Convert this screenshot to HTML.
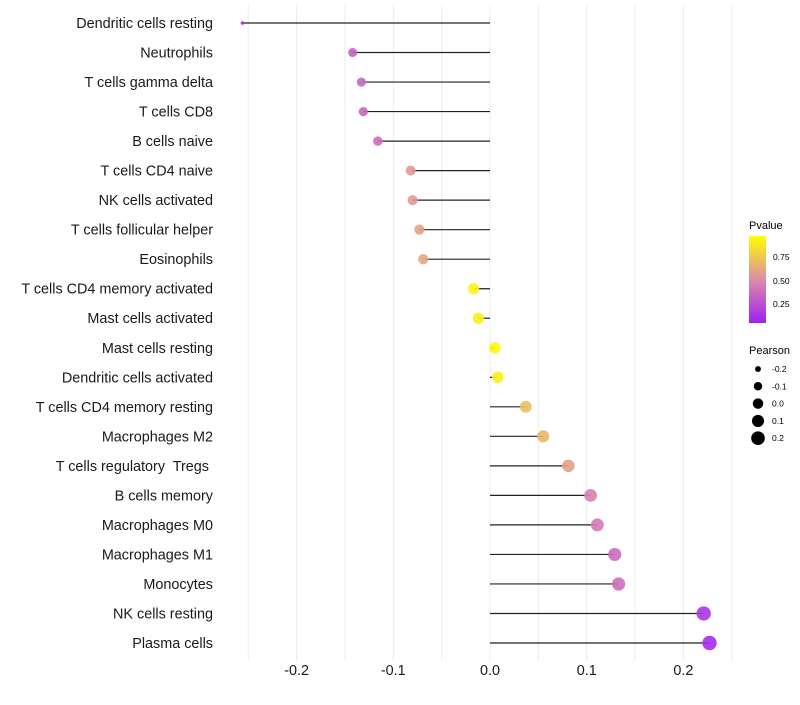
<!DOCTYPE html>
<html><head><meta charset="utf-8"><style>
body{margin:0;background:#fff;font-family:"Liberation Sans",sans-serif}
svg text{font-family:"Liberation Sans",sans-serif;white-space:pre}
</style></head><body>
<svg id="chart" width="800" height="700" xmlns="http://www.w3.org/2000/svg">
<g id="grid"></g>
<g id="marks"></g>
<g id="ylabels"></g>
<g id="xlabels"></g>
<g id="legend">
<defs><linearGradient id="pg" x1="0" y1="1" x2="0" y2="0">
<stop offset="0" stop-color="#A020F0"/><stop offset="0.5" stop-color="#DC8CA8"/><stop offset="1" stop-color="#FFFF00"/></linearGradient></defs>
<text x="749" y="229" font-size="11">Pvalue</text>
<rect x="749" y="236" width="17" height="87" fill="url(#pg)"/>
<text x="773" y="260" font-size="8.5">0.75</text>
<text x="773" y="284" font-size="8.5">0.50</text>
<text x="773" y="307" font-size="8.5">0.25</text>
<text x="749" y="354" font-size="11">Pearson</text>
</g>
</svg>
<script>
const categories=["Dendritic cells resting","Neutrophils","T cells gamma delta","T cells CD8","B cells naive","T cells CD4 naive","NK cells activated","T cells follicular helper","Eosinophils","T cells CD4 memory activated","Mast cells activated","Mast cells resting","Dendritic cells activated","T cells CD4 memory resting","Macrophages M2","T cells regulatory  Tregs ","B cells memory","Macrophages M0","Macrophages M1","Monocytes","NK cells resting","Plasma cells"];
const pearson=[-0.256,-0.142,-0.133,-0.131,-0.116,-0.082,-0.080,-0.073,-0.069,-0.017,-0.012,0.005,0.008,0.037,0.055,0.081,0.104,0.111,0.129,0.133,0.221,0.227];
const pvalues=[0.02,0.30,0.33,0.33,0.36,0.56,0.56,0.60,0.62,0.95,0.93,0.97,0.94,0.72,0.68,0.60,0.46,0.42,0.36,0.36,0.10,0.05];
const xTicks=[-0.2,-0.1,0.0,0.1,0.2];
const xTickLabels=["-0.2","-0.1","0.0","0.1","0.2"];
const legendPearson=[-0.2,-0.1,0.0,0.1,0.2];
const legendPearsonLabels=["-0.2","-0.1","0.0","0.1","0.2"];

const NS="http://www.w3.org/2000/svg";
const x=v=>490+v*967;
const y=i=>23+i*(620/21);
const r=v=>v<-0.2?1.8:Math.sqrt(Math.max(2,32.4+85.5*v));
const rl=v=>Math.sqrt(Math.max(2,27.5+94.7*v));
function lerp(a,b,t){return a.map((c,i)=>Math.round(c+(b[i]-c)*t));}
function col(p){const A=[160,32,240],M=[220,140,168],B=[255,255,0];
 const c=p<0.5?lerp(A,M,p/0.5):lerp(M,B,(p-0.5)/0.5);return `rgb(${c})`;}
function mk(t,at,parent){const e=document.createElementNS(NS,t);for(const k in at)e.setAttribute(k,at[k]);parent.appendChild(e);return e;}
const grid=document.getElementById('grid'),marks=document.getElementById('marks'),yl=document.getElementById('ylabels'),xl=document.getElementById('xlabels'),lg=document.getElementById('legend');
for(let v=-0.25;v<=0.251;v+=0.05){
 const g=mk('line',{x1:x(v),x2:x(v),y1:5,y2:660,stroke:'#ebebeb','stroke-width':1},grid);
 
 
}
categories.forEach((c,i)=>{
 const l=mk('line',{x1:x(0),x2:x(pearson[i]),y1:y(i),y2:y(i),stroke:'#222','stroke-width':1.2},marks);
 
 
 const p=mk('circle',{cx:x(pearson[i]),cy:y(i),r:r(pearson[i]),fill:col(pvalues[i]),'fill-opacity':0.9},marks);
 
 
 const t=mk('text',{x:213,y:y(i)+5,'text-anchor':'end','font-size':14.4,fill:'#1a1a1a'},yl);
 t.textContent=c;
 
 
});
xTicks.forEach((v,i)=>{
 const t=mk('text',{x:x(v),y:675,'text-anchor':'middle','font-size':14.4,fill:'#1a1a1a'},xl);
 t.textContent=xTickLabels[i];
 
 
});
legendPearson.forEach((v,i)=>{
 const cy=369+i*17.3;
 const c=mk('circle',{cx:758,cy:cy,r:rl(v),fill:'#000'},lg);
 
 
 const t=mk('text',{x:772,y:cy+3,'font-size':8.5},lg);
 t.textContent=legendPearsonLabels[i];
 
 
});
</script>
</body></html>
